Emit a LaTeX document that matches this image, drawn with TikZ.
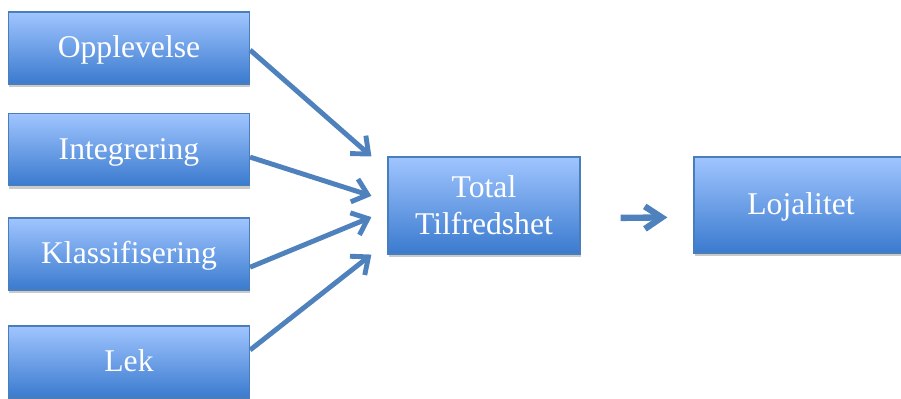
\documentclass[tikz,border=0pt]{standalone}
\usepackage{fontspec}
\setmainfont{Liberation Serif}
\usepackage{tikz}
\usetikzlibrary{positioning, arrows.meta, shadows}
\definecolor{boxtop}{RGB}{160,197,255}
\definecolor{boxbot}{RGB}{58,122,206}
\definecolor{boxline}{RGB}{74,126,187}
\definecolor{arrblue}{RGB}{79,129,189}

\begin{document}
\begin{tikzpicture}[x=0.025cm, y=-0.025cm,
      blk/.style={rectangle, draw=boxline, line width=0.8pt, top color=boxtop, bottom color=boxbot,
                  minimum height=1.8cm, minimum width=6.025cm, align=center, text=white,
                  font=\fontsize{22.5}{26.5}\selectfont,
                  drop shadow={shadow xshift=0.4pt, shadow yshift=-2.2pt, opacity=0.35, fill=black!60}},
      one/.style={text height=19pt, text depth=5pt},
      arr/.style={-{Straight Barb[length=10pt, width=17pt]}, line width=3.5pt, arrblue}]
    \useasboundingbox (0,0) rectangle (901,399);
    % left column
    \node[blk, one] (opp) at (129,48) {Opplevelse};
    \node[blk, one] (int) at (129,149.5) {Integrering};
    \node[blk, one] (kla) at (129,254) {Klassifisering};
    \node[blk, one] (lek) at (129,362) {Lek};
    % middle and right
    \node[blk, minimum width=4.8cm, minimum height=2.425cm] (tot) at (484,205.5) {Total\\Tilfredshet};
    \node[blk, one, minimum width=5.35cm, minimum height=2.4cm] (loj) at (801,205) {Lojalitet};
    \draw[arr] ([yshift=-0.05cm]opp.east) -- ([xshift=-0.4cm]tot.north west);
    \draw[arr] ([yshift=-0.19cm]int.east) -- ([xshift=-0.4cm, yshift=0.24cm]tot.west);
    \draw[arr] ([yshift=-0.33cm]kla.east) -- ([xshift=-0.4cm, yshift=-0.29cm]tot.west);
    \draw[arr] ([yshift=0.3cm]lek.east) -- ([xshift=-0.4cm]tot.south west);
    \draw[arr, line width=4.5pt, -{Straight Barb[length=12pt, width=16pt]}]
      ([xshift=1cm, yshift=-0.31cm]tot.east) -- ([xshift=-0.65cm, yshift=-0.31cm]loj.west);
  \end{tikzpicture}
\end{document}
